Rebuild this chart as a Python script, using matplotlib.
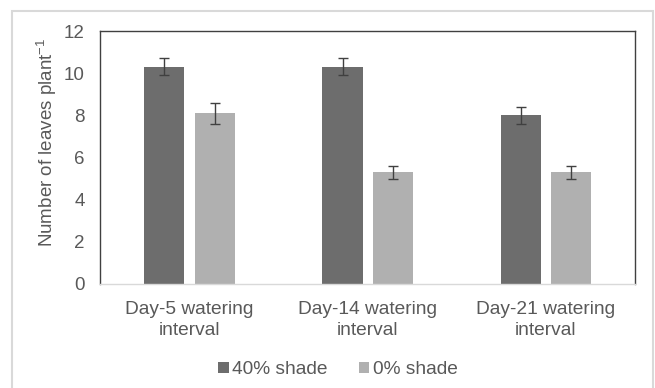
import matplotlib
matplotlib.use('Agg')
import matplotlib.pyplot as plt
import numpy as np
from matplotlib.patches import Rectangle

plt.rcParams['font.family'] = ['Liberation Sans', 'DejaVu Sans']
plt.rcParams['mathtext.fontset'] = 'custom'
plt.rcParams['mathtext.rm'] = 'Liberation Sans'
plt.rcParams['mathtext.default'] = 'regular'

# Dane z wykresu
kategorie = ['Day-5 watering\ninterval', 'Day-14 watering\ninterval', 'Day-21 watering\ninterval']
cien_40 = [10.3, 10.3, 8.0]
cien_40_err = [0.4, 0.4, 0.4]
cien_0 = [8.1, 5.3, 5.3]
cien_0_err = [0.5, 0.3, 0.3]
serie = ['40% shade', '0% shade']

tekst = '#595959'
ciemny = '#6d6d6d'
jasny = '#b0b0b0'

fig = plt.figure(figsize=(6.55, 3.88), dpi=100)
# ramka całego wykresu
fig.patches.append(Rectangle((12 / 655, -0.01), 641 / 655, 1 - 11 / 388 + 0.01,
                             transform=fig.transFigure, fill=False,
                             edgecolor='#d9d9d9', linewidth=1.5))

ax = fig.add_axes([100 / 655, 1 - 284 / 388, 535 / 655, 253 / 388])

x = np.arange(len(kategorie))
szer = 0.225
ax.bar(x - 0.14, cien_40, szer, yerr=cien_40_err, color=ciemny, label=serie[0],
       error_kw=dict(ecolor='#404040', elinewidth=1, capsize=3.5, capthick=1))
ax.bar(x + 0.143, cien_0, szer, yerr=cien_0_err, color=jasny, label=serie[1],
       error_kw=dict(ecolor='#404040', elinewidth=1, capsize=3.5, capthick=1))

ax.set_xlim(-0.5, 2.5)
ax.set_ylim(0, 12)
ax.set_yticks(range(0, 13, 2))
ax.set_xticks(x)
ax.set_xticklabels(kategorie, fontsize=13.8, color=tekst, linespacing=1.3)
ax.tick_params(axis='y', labelsize=13.5, labelcolor=tekst, length=0, pad=11)
ax.tick_params(axis='x', length=0, pad=12)

for s in ['top', 'right', 'left']:
    ax.spines[s].set_color('#404040')
    ax.spines[s].set_linewidth(1)
ax.spines['bottom'].set_color('#d9d9d9')
ax.spines['bottom'].set_linewidth(1)

ax.set_ylabel('Number of leaves plant$^{-1}$', fontsize=13.5, color=tekst)
ax.yaxis.set_label_coords(-41 / 535, 0.56)

leg = fig.legend(loc='center', bbox_to_anchor=(338 / 655, 1 - 370 / 388), ncol=2,
                 frameon=False, fontsize=13.8, handlelength=0.55, handleheight=0.55,
                 handletextpad=0.2, columnspacing=1.6)
for t in leg.get_texts():
    t.set_color(tekst)

fig.savefig('out.png', dpi=100)
